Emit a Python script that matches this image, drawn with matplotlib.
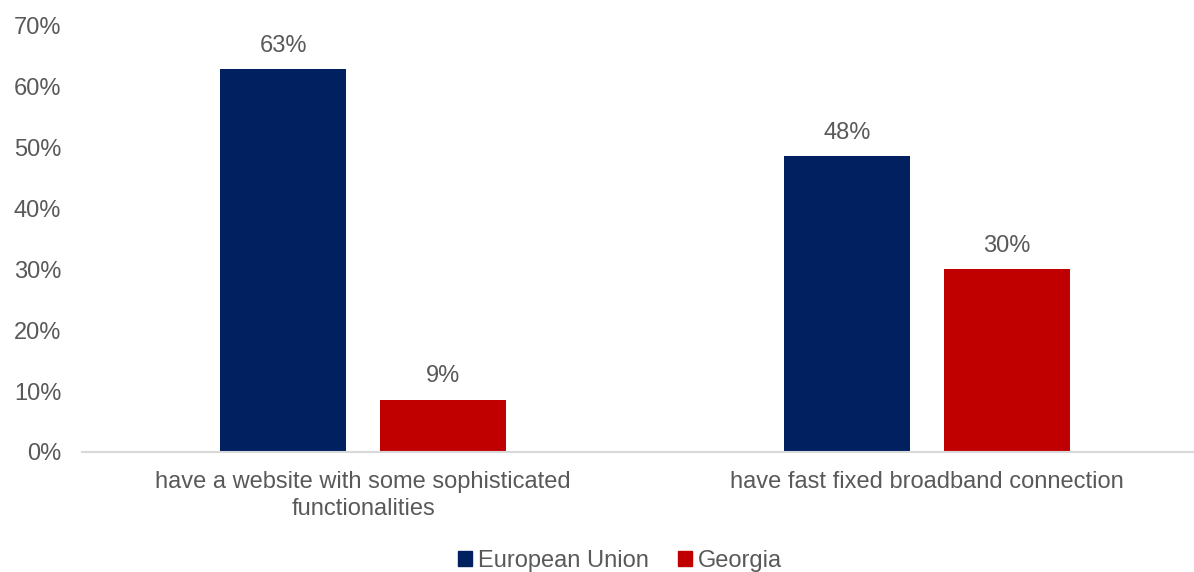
import matplotlib
matplotlib.use("Agg")
import matplotlib.pyplot as plt
from matplotlib.patches import Patch
import numpy as np

# Dados do gráfico
categorias = ["have a website with some sophisticated\nfunctionalities",
              "have fast fixed broadband connection"]
series = ["European Union", "Georgia"]
valores_ue = [0.629, 0.486]
valores_georgia = [0.086, 0.300]
rotulos_ue = ["63%", "48%"]
rotulos_georgia = ["9%", "30%"]
yticks = [0.0, 0.1, 0.2, 0.3, 0.4, 0.5, 0.6, 0.7]

cor_ue = "#002060"
cor_georgia = "#C00000"
cinza = "#595959"

plt.rcParams["font.family"] = ["Liberation Sans", "DejaVu Sans"]

fig = plt.figure(figsize=(11.94, 5.72), dpi=100)
ax = fig.add_axes([82 / 1194, 120 / 572, 1126 / 1194, 426 / 572])

x = np.arange(len(categorias))
largura = 0.224
desloc = 0.142

b1 = ax.bar(x - desloc, valores_ue, largura, color=cor_ue, label=series[0])
b2 = ax.bar(x + desloc, valores_georgia, largura, color=cor_georgia, label=series[1])

for barras, rotulos in [(b1, rotulos_ue), (b2, rotulos_georgia)]:
    for barra, txt in zip(barras, rotulos):
        ax.annotate(txt, (barra.get_x() + barra.get_width() / 2, barra.get_height()),
                    xytext=(0, 12.5), textcoords="offset points",
                    ha="center", va="baseline", fontsize=17, color=cinza)

ax.set_xlim(-0.499, 1.499)
ax.set_ylim(0, 0.7)
ax.set_yticks(yticks)
ax.set_yticklabels([f"{int(round(v * 100))}%" for v in yticks])
ax.set_xticks(x)
ax.set_xticklabels(categorias)

ax.tick_params(axis="y", length=0, pad=15, labelsize=17, labelcolor=cinza)
ax.tick_params(axis="x", length=0, pad=14, labelsize=17, labelcolor=cinza)
for t in ax.get_xticklabels():
    t.set_linespacing(1.28)

for lado in ["top", "right", "left"]:
    ax.spines[lado].set_visible(False)
ax.spines["bottom"].set_color("#D9D9D9")
ax.spines["bottom"].set_linewidth(1.5)

alças = [Patch(color=cor_ue), Patch(color=cor_georgia)]
fig.legend(alças, series, loc="center", bbox_to_anchor=(620 / 1194, 1 - 561 / 572),
           ncol=2, frameon=False, fontsize=17, labelcolor=cinza,
           handlelength=0.6, handleheight=0.6, handletextpad=0.25,
           columnspacing=1.25, borderpad=0, borderaxespad=0)

fig.savefig("out.png", dpi=100)
